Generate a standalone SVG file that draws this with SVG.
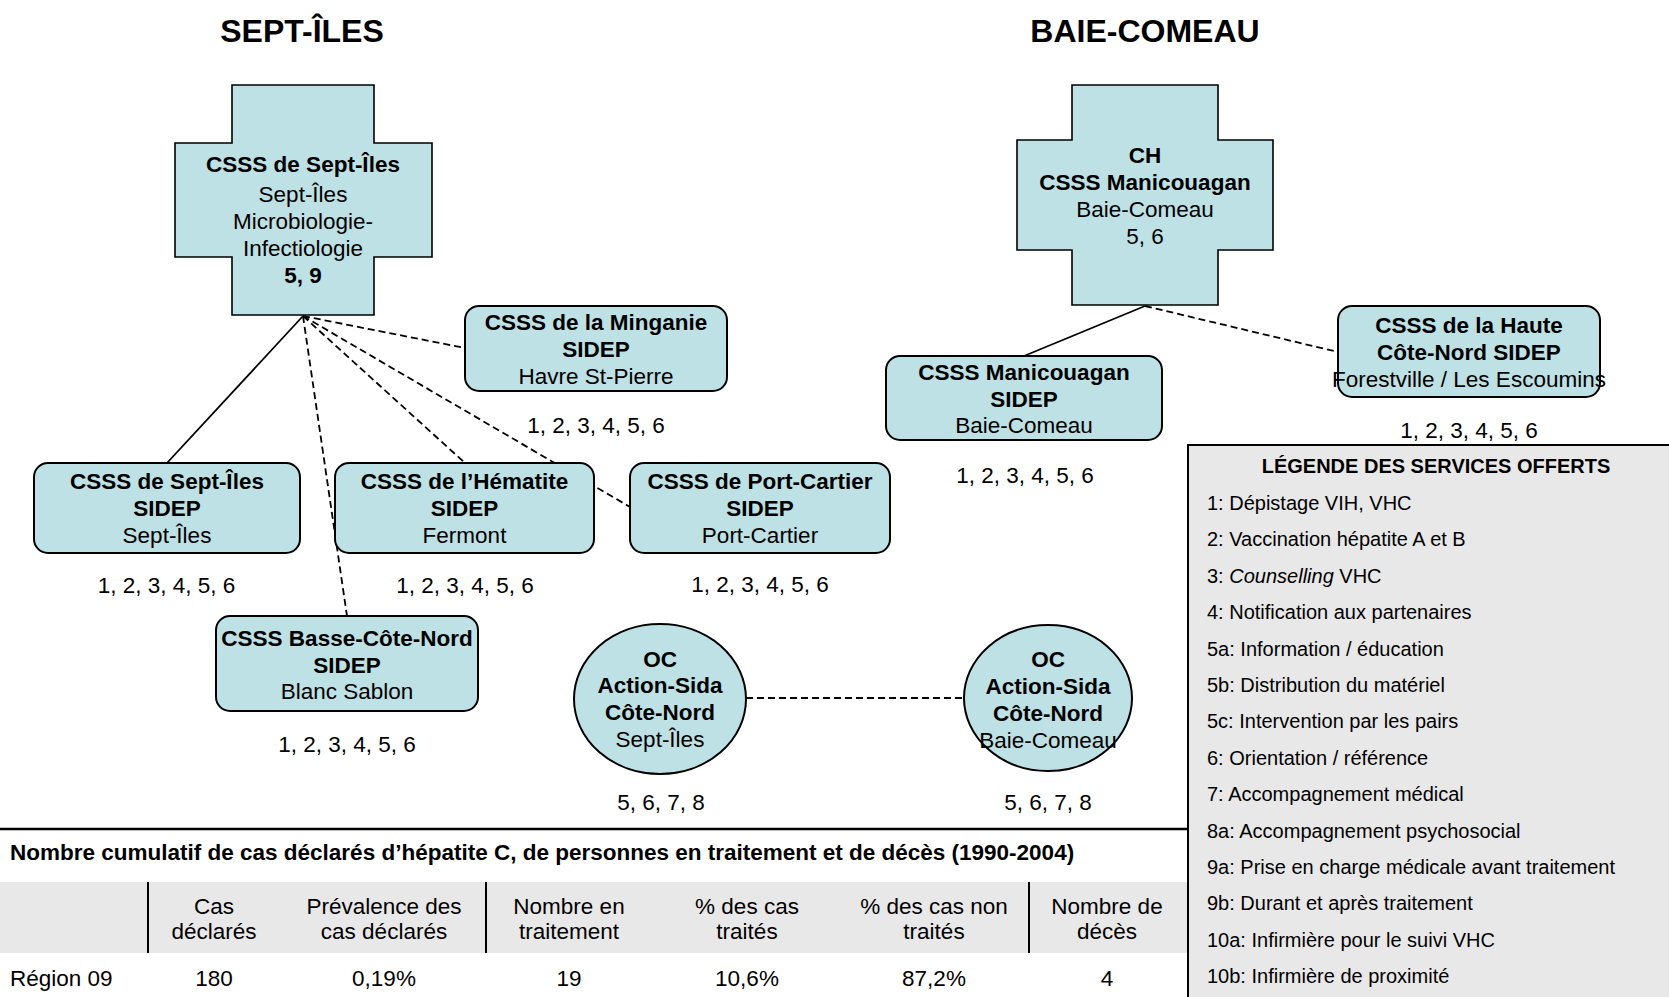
<svg xmlns="http://www.w3.org/2000/svg" width="1669" height="997" viewBox="0 0 1669 997">
<style>
text{font-family:"Liberation Sans",Arial,sans-serif;fill:#000}
.t{font-size:22.5px;text-anchor:middle}
.b{font-weight:bold}
.title{font-size:32px;font-weight:bold;text-anchor:middle}
.lg{font-size:20px}
.node{fill:#bde1e4;stroke:#000;stroke-width:2}
.cross{fill:#bde1e4;stroke:#000;stroke-width:1.6}
.solid{stroke:#000;stroke-width:1.8;fill:none}
.dash{stroke:#000;stroke-width:1.8;fill:none;stroke-dasharray:7 4}
</style>
<rect width="1669" height="997" fill="#fff"/>
<text class="title" x="302" y="42">SEPT-ÎLES</text>
<text class="title" x="1145" y="42">BAIE-COMEAU</text>

<g id="connectors">
<line class="solid" x1="303" y1="316" x2="167" y2="463"/>
<line class="dash" x1="303" y1="316" x2="347" y2="616"/>
<line class="dash" x1="303" y1="316" x2="465" y2="463"/>
<line class="dash" x1="303" y1="316" x2="630" y2="507"/>
<line class="dash" x1="303" y1="316" x2="465" y2="348"/>
<line class="solid" x1="1145" y1="306" x2="1024" y2="356"/>
<line class="dash" x1="1145" y1="306" x2="1338" y2="352"/>
<line class="dash" x1="746" y1="698" x2="964" y2="698"/>
</g>

<g id="cross-sept-iles">
<path class="cross" d="M232 85H374V143H432V257H374V315H232V257H175V143H232Z"/>
<text class="t b" x="303" y="172">CSSS de Sept-Îles</text>
<text class="t" x="303" y="201.5">Sept-Îles</text>
<text class="t" x="303" y="228.5">Microbiologie-</text>
<text class="t" x="303" y="255.5">Infectiologie</text>
<text class="t b" x="303" y="283">5, 9</text>
</g>

<g id="minganie">
<rect class="node" x="465" y="306" width="262" height="85" rx="14"/>
<text class="t b" x="596" y="330">CSSS de la Minganie</text>
<text class="t b" x="596" y="357">SIDEP</text>
<text class="t" x="596" y="384">Havre St-Pierre</text>
<text class="t" x="596" y="433">1, 2, 3, 4, 5, 6</text>
</g>

<g id="sept-iles-sidep">
<rect class="node" x="34" y="463" width="266" height="90" rx="14"/>
<text class="t b" x="167" y="489">CSSS de Sept-Îles</text>
<text class="t b" x="167" y="516">SIDEP</text>
<text class="t" x="167" y="543">Sept-Îles</text>
<text class="t" x="166.5" y="593">1, 2, 3, 4, 5, 6</text>
</g>

<g id="hematite">
<rect class="node" x="335" y="463" width="259" height="90" rx="14"/>
<text class="t b" x="464.5" y="489">CSSS de l’Hématite</text>
<text class="t b" x="464.5" y="516">SIDEP</text>
<text class="t" x="464.5" y="543">Fermont</text>
<text class="t" x="465" y="593">1, 2, 3, 4, 5, 6</text>
</g>

<g id="port-cartier">
<rect class="node" x="630" y="463" width="260" height="90" rx="14"/>
<text class="t b" x="760" y="489">CSSS de Port-Cartier</text>
<text class="t b" x="760" y="516">SIDEP</text>
<text class="t" x="760" y="543">Port-Cartier</text>
<text class="t" x="760" y="592">1, 2, 3, 4, 5, 6</text>
</g>

<g id="basse-cote-nord">
<rect class="node" x="216" y="616" width="262" height="95" rx="14"/>
<text class="t b" x="347" y="646">CSSS Basse-Côte-Nord</text>
<text class="t b" x="347" y="673">SIDEP</text>
<text class="t" x="347" y="699">Blanc Sablon</text>
<text class="t" x="347" y="752">1, 2, 3, 4, 5, 6</text>
</g>

<g id="oc-sept-iles">
<ellipse class="node" cx="660" cy="699" rx="86" ry="75"/>
<text class="t b" x="660" y="667">OC</text>
<text class="t b" x="660" y="693">Action-Sida</text>
<text class="t b" x="660" y="720">Côte-Nord</text>
<text class="t" x="660" y="747">Sept-Îles</text>
<text class="t" x="661" y="810">5, 6, 7, 8</text>
</g>

<g id="oc-baie-comeau">
<ellipse class="node" cx="1048" cy="698" rx="84" ry="73"/>
<text class="t b" x="1048" y="667">OC</text>
<text class="t b" x="1048" y="694">Action-Sida</text>
<text class="t b" x="1048" y="721">Côte-Nord</text>
<text class="t" x="1048" y="748">Baie-Comeau</text>
<text class="t" x="1048" y="810">5, 6, 7, 8</text>
</g>

<g id="cross-baie-comeau">
<path class="cross" d="M1072 85H1218V140H1273V250H1218V305H1072V250H1017V140H1072Z"/>
<text class="t b" x="1145" y="163">CH</text>
<text class="t b" x="1145" y="190">CSSS Manicouagan</text>
<text class="t" x="1145" y="217">Baie-Comeau</text>
<text class="t" x="1145" y="244">5, 6</text>
</g>

<g id="manicouagan-sidep">
<rect class="node" x="886" y="356" width="276" height="84" rx="14"/>
<text class="t b" x="1024" y="380">CSSS Manicouagan</text>
<text class="t b" x="1024" y="407">SIDEP</text>
<text class="t" x="1024" y="433">Baie-Comeau</text>
<text class="t" x="1025" y="483">1, 2, 3, 4, 5, 6</text>
</g>

<g id="haute-cote-nord">
<rect class="node" x="1338" y="306" width="262" height="91" rx="14"/>
<text class="t b" x="1469" y="333">CSSS de la Haute</text>
<text class="t b" x="1469" y="360">Côte-Nord SIDEP</text>
<text class="t" x="1469" y="387">Forestville / Les Escoumins</text>
<text class="t" x="1469" y="438">1, 2, 3, 4, 5, 6</text>
</g>

<g id="table">
<line x1="0" y1="829" x2="1188" y2="829" stroke="#000" stroke-width="2.5"/>
<text class="b" x="10" y="860" style="font-size:22.5px">Nombre cumulatif de cas déclarés d’hépatite C, de personnes en traitement et de décès (1990-2004)</text>
<rect x="0" y="882" width="1188" height="71" fill="#e8e8e8"/>
<g stroke="#000" stroke-width="2">
<line x1="148" y1="882" x2="148" y2="953"/>
<line x1="486" y1="882" x2="486" y2="953"/>
<line x1="1029" y1="882" x2="1029" y2="953"/>
</g>
<text class="t" x="214" y="914">Cas</text>
<text class="t" x="214" y="939">déclarés</text>
<text class="t" x="384" y="914">Prévalence des</text>
<text class="t" x="384" y="939">cas déclarés</text>
<text class="t" x="569" y="914">Nombre en</text>
<text class="t" x="569" y="939">traitement</text>
<text class="t" x="747" y="914">% des cas</text>
<text class="t" x="747" y="939">traités</text>
<text class="t" x="934" y="914">% des cas non</text>
<text class="t" x="934" y="939">traités</text>
<text class="t" x="1107" y="914">Nombre de</text>
<text class="t" x="1107" y="939">décès</text>
<text x="10" y="986" style="font-size:22.5px">Région 09</text>
<text class="t" x="214" y="986">180</text>
<text class="t" x="384" y="986">0,19%</text>
<text class="t" x="569" y="986">19</text>
<text class="t" x="747" y="986">10,6%</text>
<text class="t" x="934" y="986">87,2%</text>
<text class="t" x="1107" y="986">4</text>
</g>

<g id="legend">
<rect x="1188" y="445" width="500" height="570" fill="#e8e8e8" stroke="#000" stroke-width="2"/>
<text class="lg b" x="1436" y="473" text-anchor="middle">LÉGENDE DES SERVICES OFFERTS</text>
<text class="lg" x="1207" y="510">1: Dépistage VIH, VHC</text>
<text class="lg" x="1207" y="546.4">2: Vaccination hépatite A et B</text>
<text class="lg" x="1207" y="582.8">3: <tspan font-style="italic">Counselling</tspan> VHC</text>
<text class="lg" x="1207" y="619.2">4: Notification aux partenaires</text>
<text class="lg" x="1207" y="655.6">5a: Information / éducation</text>
<text class="lg" x="1207" y="692">5b: Distribution du matériel</text>
<text class="lg" x="1207" y="728.4">5c: Intervention par les pairs</text>
<text class="lg" x="1207" y="764.8">6: Orientation / référence</text>
<text class="lg" x="1207" y="801.2">7: Accompagnement médical</text>
<text class="lg" x="1207" y="837.6">8a: Accompagnement psychosocial</text>
<text class="lg" x="1207" y="874">9a: Prise en charge médicale avant traitement</text>
<text class="lg" x="1207" y="910.4">9b: Durant et après traitement</text>
<text class="lg" x="1207" y="946.8">10a: Infirmière pour le suivi VHC</text>
<text class="lg" x="1207" y="983.2">10b: Infirmière de proximité</text>
</g>
</svg>
